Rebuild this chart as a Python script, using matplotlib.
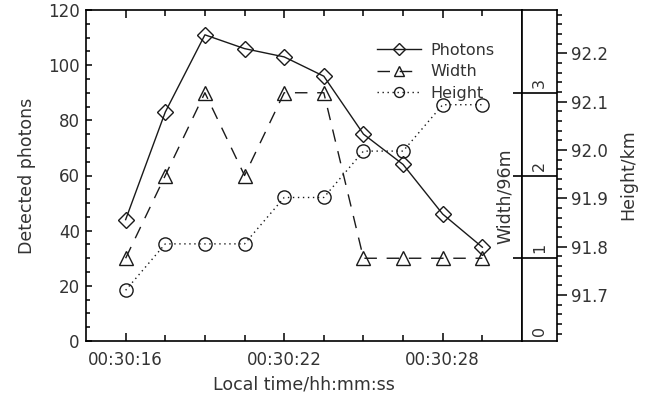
import matplotlib
matplotlib.use("Agg")
import matplotlib.pyplot as plt
from matplotlib.ticker import MultipleLocator, FixedLocator, FuncFormatter

# ── DATA ─────────────────────────────────────────────
seconds = [16.0, 17.5, 19.0, 20.5, 22.0, 23.5, 25.0, 26.5, 28.0, 29.5]   # after 00:30:00
photons = [44, 83, 111, 106, 103, 96, 75, 64, 46, 34]
width = [1, 2, 3, 2, 3, 3, 1, 1, 1, 1]                                    # in 96 m bins
height = [91.710, 91.806, 91.806, 91.806, 91.902, 91.902, 91.998, 91.998, 92.094, 92.094]
time_ticks = [16, 22, 28]
width_ticks = [0, 1, 2, 3]

TXT = "#333333"
LINE = "#1a1a1a"
plt.rcParams["font.family"] = ["DejaVu Sans"]
plt.rcParams["font.size"] = 12

fig = plt.figure(figsize=(6.46, 3.99), dpi=100)
W, H = 646, 399
L, R, B, T = 86, 522, 341, 10
pos = [L / W, 1 - B / H, (R - L) / W, (B - T) / H]

ax = fig.add_axes(pos)
ax.set_xlim(14.5, 31)
ax.set_ylim(0, 120)

# photons
l1, = ax.plot(seconds, photons, color=LINE, lw=1.0, marker="D", ms=8,
              mfc="none", mec=LINE, mew=1.0, label="Photons")

# width on its own scale (0-4)
axw = ax.twinx()
axw.set_ylim(0, 4)
axw.axis("off")
l2, = axw.plot(seconds, width, color=LINE, lw=1.0, dashes=(9, 7), marker="^", ms=9.5,
               mfc="none", mec=LINE, mew=1.0, label="Width")

# height on its own scale
hlim = (91.605, 92.29)
axh = ax.twinx()
axh.set_ylim(*hlim)
axh.axis("off")
l3, = axh.plot(seconds, height, color=LINE, lw=1.0, dashes=(1.0, 2.6), marker="o", ms=9.5,
               mfc="none", mec=LINE, mew=1.0, label="Height")

# axes styling
for s in ax.spines.values():
    s.set_linewidth(1.2)
    s.set_color("black")
ax.xaxis.set_major_locator(FixedLocator(time_ticks))
ax.xaxis.set_minor_locator(FixedLocator(seconds))
ax.xaxis.set_major_formatter(FuncFormatter(lambda v, p: "00:30:%02d" % v))
ax.yaxis.set_major_locator(MultipleLocator(20))
ax.yaxis.set_minor_locator(MultipleLocator(5))
ax.tick_params(axis="x", which="both", direction="in", top=True, bottom=True,
               width=1.1, colors="black", labelcolor=TXT, pad=7)
ax.tick_params(axis="x", which="major", length=6)
ax.tick_params(axis="x", which="minor", length=4.5)
ax.tick_params(axis="y", which="both", direction="in", left=True, right=False,
               width=1.1, colors="black", labelcolor=TXT, pad=4.5)
ax.tick_params(axis="y", which="major", length=4)
ax.tick_params(axis="y", which="minor", length=3)
ax.set_xlabel("Local time/hh:mm:ss", color=TXT, fontsize=12.5, labelpad=5)
ax.set_ylabel("Detected photons", color=TXT, fontsize=12.5, labelpad=9)

ax.legend(handles=[l1, l2, l3], loc="upper left", bbox_to_anchor=(0.648, 0.925),
          frameon=False, borderpad=0, handlelength=2.8, handletextpad=0.55,
          labelspacing=0.4, numpoints=1, markerscale=0.75, fontsize=11.5,
          labelcolor=TXT)

# ── WIDTH PANEL + HEIGHT AXIS ────────────────────────
PR = 557
axp = fig.add_axes([R / W, 1 - B / H, (PR - R) / W, (B - T) / H])
axp.set_xlim(0, 1)
axp.set_ylim(0, 4)
axp.set_xticks([])
for s in axp.spines.values():
    s.set_linewidth(1.2)
    s.set_color("black")
axp.yaxis.set_major_locator(FixedLocator(width_ticks[1:]))
axp.tick_params(axis="y", direction="out", length=6.5, width=1.2, labelleft=False)
for v in width_ticks[1:]:
    axp.axhline(v, color="black", lw=1.2)
for v in width_ticks:
    axp.text(0.5, v + 0.06, str(v), rotation=90, ha="center", va="bottom",
             color=TXT, fontsize=11.5)

axph = axp.twinx()
axph.set_ylim(*hlim)
axph.yaxis.set_major_locator(MultipleLocator(0.1))
axph.yaxis.set_minor_locator(MultipleLocator(0.02))
axph.yaxis.set_major_formatter(FuncFormatter(lambda v, p: "%.1f" % v))
axph.tick_params(axis="y", which="both", direction="out", width=1.1,
                 colors="black", labelcolor=TXT, pad=3)
axph.tick_params(axis="y", which="major", length=7)
axph.tick_params(axis="y", which="minor", length=3.5)
for s in axph.spines.values():
    s.set_visible(False)

fig.text(505 / W, 1 - 196 / H, "Width/96m", rotation=90, ha="center", va="center",
         color=TXT, fontsize=12.5)
fig.text(628 / W, 1 - 175 / H, "Height/km", rotation=90, ha="center", va="center",
         color=TXT, fontsize=12.5)

plt.savefig("out.png", dpi=100)
print("Saved out.png")
